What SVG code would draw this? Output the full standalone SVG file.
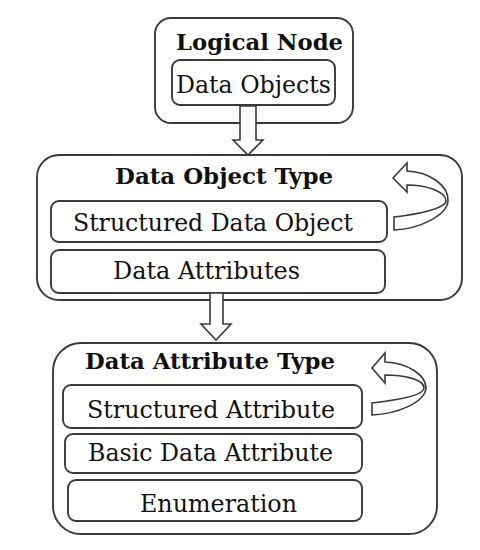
<svg xmlns="http://www.w3.org/2000/svg" width="480" height="550" viewBox="0 0 480 550">
<style>
.box{fill:none;stroke:#3a3a3a;stroke-width:1.9}
.arr{fill:#fff;stroke:#3a3a3a;stroke-width:1.6;stroke-linejoin:miter}
.t{font-family:"DejaVu Serif","Liberation Serif",serif;font-size:24px;fill:#111;text-anchor:start}
.b{font-weight:bold;font-size:23px}
</style>
<rect width="480" height="550" fill="#fff"/>
<g id="logical-node">
<rect class="box" x="155" y="18" width="198" height="105" rx="16"/>
<text class="t b" x="176" y="50" textLength="167" lengthAdjust="spacingAndGlyphs">Logical Node</text>
</g>
<g id="data-objects">
<rect class="box" x="172" y="60" width="163" height="45" rx="8"/>
<text class="t" x="176" y="93" textLength="155" lengthAdjust="spacingAndGlyphs">Data Objects</text>
</g>
<g id="data-object-type">
<rect class="box" x="37" y="155" width="425" height="145" rx="22"/>
<text class="t b" x="115" y="184" textLength="218" lengthAdjust="spacingAndGlyphs">Data Object Type</text>
</g>
<g id="structured-data-object">
<rect class="box" x="51" y="201" width="336" height="41" rx="8"/>
<text class="t" x="73" y="231" textLength="280" lengthAdjust="spacingAndGlyphs">Structured Data Object</text>
</g>
<g id="data-attributes">
<rect class="box" x="51" y="250" width="334" height="43" rx="8"/>
<text class="t" x="113" y="279" textLength="187" lengthAdjust="spacingAndGlyphs">Data Attributes</text>
</g>
<g id="data-attribute-type">
<rect class="box" x="53" y="343" width="384" height="191" rx="28"/>
<text class="t b" x="85" y="369" textLength="250" lengthAdjust="spacingAndGlyphs">Data Attribute Type</text>
</g>
<g id="structured-attribute">
<rect class="box" x="63" y="385" width="299" height="43" rx="8"/>
<text class="t" x="87" y="418" textLength="248" lengthAdjust="spacingAndGlyphs">Structured Attribute</text>
</g>
<g id="basic-data-attribute">
<rect class="box" x="65" y="434" width="297" height="39" rx="8"/>
<text class="t" x="88" y="461" textLength="245" lengthAdjust="spacingAndGlyphs">Basic Data Attribute</text>
</g>
<g id="enumeration">
<rect class="box" x="68" y="480" width="294" height="41" rx="8"/>
<text class="t" x="140" y="512" textLength="157" lengthAdjust="spacingAndGlyphs">Enumeration</text>
</g>
<g id="connectors">
<polygon class="arr" points="240,106 256,106 256,140 263,140 248,155 233,140 240,140"/>
<polygon class="arr" points="210,293 223,293 223,324 231,324 216,340 201,324 210,324"/>
<path class="arr" d="M394 217 C420 214 446 208 446 201 C446 191 425 185 407 185 L407 192 L393 178 L407 163 L407 171 C430 172 449 186 448 201 C447 215 420 229 394 230 Z"/>
<path class="arr" d="M372 403 C398 400 424 395 424 388 C424 379 403 375 385 375 L385 383 L372 368 L385 353 L385 362 C408 363 426 375 426 388 C425 402 398 414 372 415 Z"/>
</g>
</svg>
